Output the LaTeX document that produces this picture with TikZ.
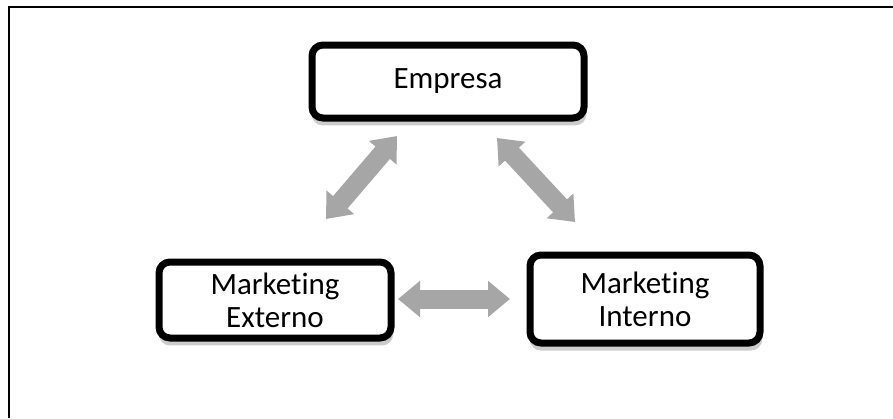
\documentclass[tikz,border=0pt]{standalone}
\usepackage{fontspec}
\setmainfont{Carlito}[RawFeature={-liga;-clig;-calt;-dlig}]
\usetikzlibrary{arrows.meta,shadows}
\begin{document}
\begin{tikzpicture}[x=1pt,y=-1pt,
  box/.style={draw=black, line width=7pt, rounded corners=11pt, fill=white,
    align=center, font=\fontsize{31}{33}\selectfont, inner sep=0pt,
    drop shadow={shadow xshift=1pt, shadow yshift=-7pt, shadow scale=1.01, fill=black!20, opacity=1}},
  link/.style={draw=black!35, line width=19pt, {Triangle[length=22pt 0 0,width=35pt 0 0]}-{Triangle[length=22pt 0 0,width=35pt 0 0]}},
  frame/.style={draw=black, line width=2pt}]
\useasboundingbox (0,0) rectangle (893,418);
\fill[white] (0,0) rectangle (893,418);
\draw[frame] (8.5,418) -- (8.5,6.5) -- (893,6.5);
\node[box, minimum width=272pt, minimum height=73pt] (emp) at (448,81.5) {Empresa};
\node[box, minimum width=232pt, minimum height=76pt] (ext) at (275,300) {Market\kern0pt ing\\Externo};
\node[box, minimum width=230pt, minimum height=88pt] (int) at (645,299) {Market\kern0pt ing\\Interno};
\coordinate (a1) at (397,136);
\coordinate (a2) at (326,219);
\coordinate (b1) at (497,138);
\coordinate (b2) at (575,222);
\coordinate (c1) at (398,299);
\coordinate (c2) at (510,299);
\draw[link] (a1) -- (a2);
\draw[link] (b1) -- (b2);
\draw[link] (c1) -- (c2);
\end{tikzpicture}
\end{document}
